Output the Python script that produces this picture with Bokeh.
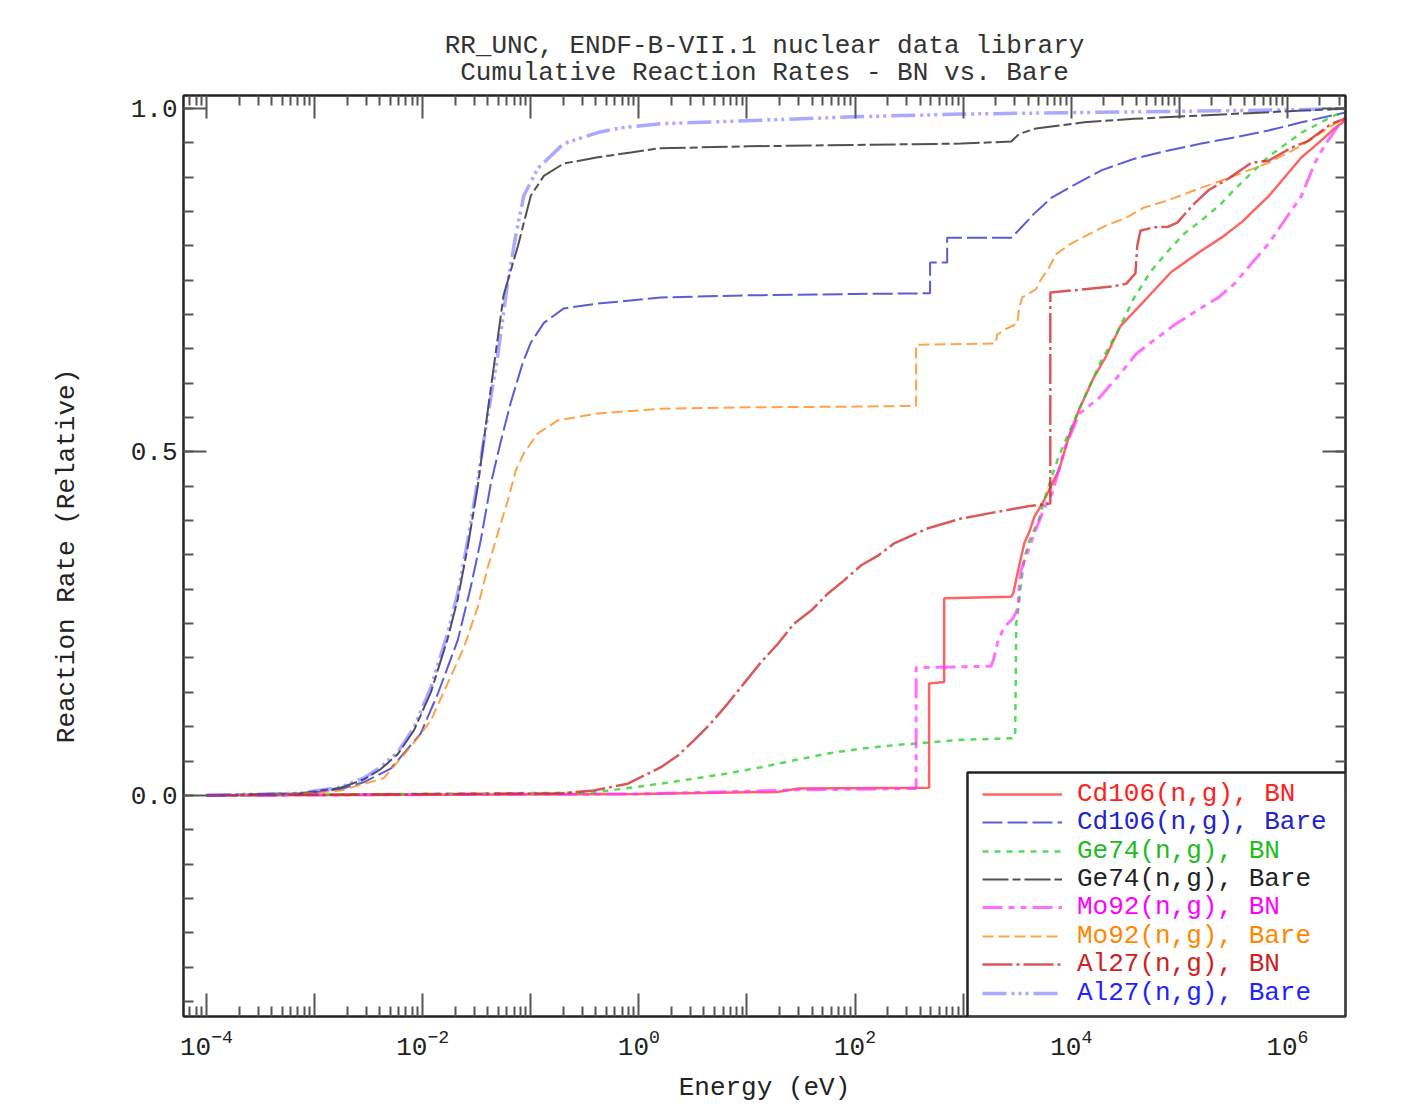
from bokeh.plotting import figure
from bokeh.models import (Range1d, LogAxis, LinearAxis, FixedTicker, LogTickFormatter,
                          PrintfTickFormatter, CustomJSTickFormatter, Legend, LegendItem,
                          BoxAnnotation)
from bokeh.embed import file_html
from bokeh.resources import INLINE

# ---------------- data (energy in eV, cumulative relative reaction rate) ----------------
e_cd106_bn = [1e-4, 1.0, 19, 30, 484, 484, 667, 667, 2780, 2904, 3228, 3443, 3673, 4083, 4539,
              4943, 5623, 7745, 9572, 1.19e4, 1.60e4, 2.11e4, 2.84e4, 4.08e4, 5.74e4, 8.4e4,
              1.5e5, 2.45e5, 3.8e5, 6.67e5, 1.35e6, 1.94e6, 2.72e6, 3.37e6, 3.5e6]
r_cd106_bn = [0.0, 0.002, 0.005, 0.010, 0.011, 0.163, 0.165, 0.287, 0.289, 0.294, 0.328, 0.347,
              0.367, 0.383, 0.405, 0.415, 0.430, 0.475, 0.524, 0.563, 0.607, 0.640, 0.683, 0.709,
              0.734, 0.762, 0.790, 0.812, 0.835, 0.872, 0.929, 0.950, 0.971, 0.982, 0.985]

e_cd106_bare = [1e-4, 7.4e-4, 1.74e-3, 2.84e-3, 5.06e-3, 9.57e-3, 1.38e-2, 2.11e-2, 2.78e-2,
                3.44e-2, 4.27e-2, 5.27e-2, 6.53e-2, 8.43e-2, 0.1, 0.132, 0.202, 0.417, 1.6, 10,
                100, 494, 494, 711, 711, 2780, 3228, 4539, 6530, 9400, 1.9e4, 3.83e4, 7.91e4,
                1.6e5, 3.23e5, 6.67e5, 1.35e6, 3.37e6, 3.5e6]
r_cd106_bare = [0.0, 0.002, 0.009, 0.019, 0.039, 0.090, 0.148, 0.226, 0.303, 0.371, 0.454, 0.515,
                0.572, 0.630, 0.659, 0.688, 0.709, 0.716, 0.725, 0.728, 0.730, 0.731, 0.776,
                0.776, 0.812, 0.812, 0.822, 0.847, 0.870, 0.884, 0.910, 0.927, 0.939, 0.949,
                0.958, 0.968, 0.980, 0.994, 0.996]

e_ge74_bn = [1e-4, 0.383, 1.6, 6.67, 13.5, 27.2, 56.2, 114, 230, 474, 957, 2780, 3027, 3097,
             3228, 3443, 3673, 4083, 5058, 5875, 7586, 1e4, 1.32e4, 1.9e4, 2.72e4, 3.83e4,
             5.51e4, 7.91e4, 1.11e5, 1.6e5, 2.45e5, 3.23e5, 6.67e5, 1.35e6, 2.72e6, 3.5e6]
r_ge74_bn = [0.0, 0.004, 0.017, 0.032, 0.041, 0.051, 0.061, 0.068, 0.073, 0.077, 0.081, 0.083,
             0.085, 0.250, 0.270, 0.310, 0.345, 0.370, 0.403, 0.440, 0.492, 0.536, 0.579, 0.633,
             0.677, 0.725, 0.764, 0.793, 0.818, 0.837, 0.862, 0.882, 0.930, 0.965, 0.990, 0.995]

e_ge74_bare = [1e-4, 7.4e-4, 1.74e-3, 2.84e-3, 4.08e-3, 5.87e-3, 8.26e-3, 1.19e-2, 1.70e-2,
               2.11e-2, 2.61e-2, 3.23e-2, 4.0e-2, 5.6e-2, 7.6e-2, 0.1, 0.132, 0.202, 0.417,
               0.843, 1.5, 10, 100, 957, 2780, 3300, 4700, 1.32e4, 3.83e4, 1.6e5, 1.35e6, 3.5e6]
r_ge74_bare = [0.0, 0.003, 0.011, 0.023, 0.038, 0.060, 0.094, 0.150, 0.228, 0.286, 0.362, 0.450,
               0.560, 0.728, 0.800, 0.873, 0.902, 0.920, 0.929, 0.936, 0.942, 0.945, 0.947,
               0.949, 0.952, 0.963, 0.971, 0.980, 0.985, 0.990, 0.997, 1.0]

e_mo92_bn = [1e-4, 1.0, 30, 367, 367, 1815, 1936, 2109, 2399, 2904, 3228, 3304, 3443, 4000,
             4539, 5875, 6668, 8790, 1.19e4, 1.82e4, 2.84e4, 4.0e4, 5.74e4, 9.38e4, 1.6e5,
             2.3e5, 3.23e5, 4.64e5, 6.67e5, 9.38e5, 1.35e6, 1.78e6, 2.2e6, 2.96e6, 3.5e6]
r_mo92_bn = [0.0, 0.002, 0.008, 0.010, 0.186, 0.188, 0.201, 0.226, 0.245, 0.258, 0.274, 0.309,
             0.328, 0.357, 0.381, 0.425, 0.440, 0.507, 0.556, 0.579, 0.614, 0.643, 0.662, 0.687,
             0.710, 0.725, 0.745, 0.774, 0.803, 0.837, 0.873, 0.920, 0.946, 0.975, 0.985]

e_mo92_bare = [1e-4, 7.4e-4, 1.74e-3, 4.36e-3, 8.26e-3, 1.19e-2, 1.70e-2, 2.40e-2, 3.23e-2,
               4.0e-2, 4.94e-2, 6.12e-2, 7.26e-2, 8.61e-2, 0.116, 0.178, 0.417, 1.6, 10, 100,
               367, 367, 2000, 2065, 2553, 3162, 3304, 3516, 4742, 5058, 6252, 7261, 9572,
               1.38e4, 2.11e4, 3.23e4, 4.74e4, 7.74e4, 1.38e5, 3.23e5, 6.67e5, 1.35e6, 2.4e6,
               3.37e6, 3.5e6]
r_mo92_bare = [0.0, 0.002, 0.007, 0.025, 0.076, 0.109, 0.163, 0.215, 0.274, 0.332, 0.381, 0.429,
               0.473, 0.498, 0.527, 0.546, 0.556, 0.563, 0.565, 0.566, 0.567, 0.656, 0.658,
               0.671, 0.680, 0.687, 0.710, 0.725, 0.737, 0.747, 0.769, 0.788, 0.802, 0.815,
               0.830, 0.841, 0.856, 0.866, 0.881, 0.902, 0.921, 0.946, 0.972, 0.987, 0.990]

e_al27_bn = [1e-4, 0.19, 0.383, 0.791, 1.6, 2.3, 3.23, 4.64, 6.67, 9.38, 13.5, 19.4, 27.2, 39.2,
             56.2, 79.1, 114, 163, 230, 474, 957, 1936, 4000, 6400, 6400, 2.45e4, 3.23e4,
             3.92e4, 4.08e4, 4.36e4, 5.74e4, 7.91e4, 9.57e4, 1.19e5, 1.38e5, 1.86e5, 2.84e5,
             4.64e5, 6.67e5, 1.09e6, 1.56e6, 2.55e6, 3.37e6, 3.5e6]
r_al27_bn = [0.0, 0.003, 0.007, 0.017, 0.041, 0.058, 0.080, 0.105, 0.134, 0.163, 0.194, 0.221,
             0.250, 0.269, 0.294, 0.313, 0.335, 0.349, 0.367, 0.389, 0.403, 0.412, 0.421, 0.425,
             0.732, 0.741, 0.745, 0.760, 0.800, 0.822, 0.827, 0.828, 0.834, 0.851, 0.862, 0.881,
             0.898, 0.921, 0.924, 0.943, 0.953, 0.978, 0.985, 0.990]

e_al27_bare = [1e-4, 7.4e-4, 1.74e-3, 2.84e-3, 4.08e-3, 5.87e-3, 8.26e-3, 1.19e-2, 1.70e-2,
               2.11e-2, 2.61e-2, 3.23e-2, 3.83e-2, 4.94e-2, 6.12e-2, 7.26e-2, 8.61e-2, 0.116,
               0.202, 0.417, 0.681, 1.6, 20, 100, 1e3, 1e4, 1e5, 1e6, 3.5e6]
r_al27_bare = [0.0, 0.003, 0.012, 0.025, 0.041, 0.063, 0.098, 0.157, 0.236, 0.294, 0.371, 0.459,
               0.535, 0.640, 0.747, 0.815, 0.873, 0.913, 0.949, 0.965, 0.972, 0.978, 0.984,
               0.988, 0.992, 0.994, 0.996, 0.998, 1.0]

labels = ["Cd106(n,g), BN", "Cd106(n,g), Bare", "Ge74(n,g), BN", "Ge74(n,g), Bare",
          "Mo92(n,g), BN", "Mo92(n,g), Bare", "Al27(n,g), BN", "Al27(n,g), Bare"]

title_lines = ["RR_UNC, ENDF-B-VII.1 nuclear data library",
               "Cumulative Reaction Rates - BN vs. Bare"]

x_major = [1e-5, 1e-4, 1e-3, 1e-2, 1e-1, 1.0, 10.0, 100.0, 1e3, 1e4, 1e5, 1e6, 1e7]
x_unlabeled = [1e-5, 1e-3, 1e-1, 10.0, 1e3, 1e5, 1e7]
y_major = [0.0, 0.5, 1.0]

# ---------------- styling ----------------
FONT = "Liberation Mono"
FS = "26px"
TXT = "#222222"

series = [
    (e_cd106_bn, r_cd106_bn, "#ff3030", 0.75, 2.5, "solid", "#ff2020"),
    (e_cd106_bare, r_cd106_bare, "#3333cc", 0.8, 2.0, "20 5", "#2222cc"),
    (e_ge74_bn, r_ge74_bn, "#22cc22", 0.75, 2.5, "6 6", "#22bb22"),
    (e_ge74_bare, r_ge74_bare, "#333333", 0.85, 2.0, "26 4 8 4", "#222222"),
    (e_mo92_bn, r_mo92_bn, "#ff33ff", 0.7, 3.0, "20 6 6 6 6 6", "#ff00ff"),
    (e_mo92_bare, r_mo92_bare, "#ff8c1a", 0.8, 2.0, "11 5", "#ff8800"),
    (e_al27_bn, r_al27_bn, "#cc2222", 0.75, 2.5, "30 4 3 4", "#cc2222"),
    (e_al27_bare, r_al27_bare, "#4040ff", 0.45, 3.5, "24 5 3 4 3 4 3 5", "#2222ff"),
]

p = figure(width=1412, height=1108, x_axis_type="log",
           x_range=Range1d(10 ** -4.213, 10 ** 6.537), y_range=Range1d(-0.322, 1.019),
           output_backend="svg", toolbar_location=None,
           min_border_left=183, min_border_right=67, min_border_top=95, min_border_bottom=92,
           background_fill_color="white", border_fill_color="white")
p.grid.visible = False
p.outline_line_color = "#222222"
p.outline_line_width = 2

# monospace block: pad the shorter line (non-breaking space) so both lines are centred
w = max(len(s) for s in title_lines)
p.title.text = "\n".join("\u00a0" * ((w - len(s)) // 2) + s for s in title_lines)
p.title.align = "center"
p.title.text_font = FONT
p.title.text_font_size = FS
p.title.text_font_style = "normal"
p.title.text_color = "#333333"
p.title.text_line_height = 0.92
p.title.standoff = 14

xticker = FixedTicker(ticks=x_major,
                      minor_ticks=[m * d for d in x_major[:-1] for m in range(2, 10)])
yticker = FixedTicker(ticks=y_major,
                      minor_ticks=[round(-0.3 + 0.05 * i, 2) for i in range(27)])


def style_axis(ax):
    ax.axis_line_color = "#222222"
    ax.axis_line_width = 2
    ax.major_tick_in = 23
    ax.major_tick_out = 0
    ax.minor_tick_in = 10
    ax.minor_tick_out = 0
    ax.major_tick_line_color = "#555555"
    ax.minor_tick_line_color = "#555555"
    ax.major_tick_line_width = 2
    ax.minor_tick_line_width = 2
    ax.major_label_text_font = FONT
    ax.major_label_text_font_size = FS
    ax.major_label_text_color = TXT
    ax.axis_label_text_font = FONT
    ax.axis_label_text_font_size = FS
    ax.axis_label_text_font_style = "normal"
    ax.axis_label_text_color = TXT


xa = p.xaxis[0]
xa.ticker = xticker
xa.formatter = LogTickFormatter()
xa.major_label_overrides = {v: "" for v in x_unlabeled}
xa.axis_label = "Energy (eV)"
style_axis(xa)
xa.major_label_standoff = 12
xa.axis_label_standoff = 15

ya = p.yaxis[0]
ya.ticker = yticker
ya.formatter = PrintfTickFormatter(format="%.1f")
ya.axis_label = "Reaction Rate (Relative)"
style_axis(ya)
ya.major_label_standoff = 6
ya.axis_label_standoff = 46

blank = CustomJSTickFormatter(code="return ''")
top = LogAxis(ticker=xticker, formatter=blank)
style_axis(top)
top.major_label_standoff = 0
top.major_label_text_font_size = "1px"
right = LinearAxis(ticker=yticker, formatter=blank)
style_axis(right)
right.major_label_standoff = 0
right.major_label_text_font_size = "1px"
p.add_layout(top, "above")
p.add_layout(right, "right")

renderers = []
for e, r, col, alpha, lw, dash, tcol in series:
    rr = p.line(e, r, line_color=col, line_alpha=alpha, line_width=lw, line_dash=dash)
    renderers.append(rr)

# legend box
box = BoxAnnotation(left=784, right=1162, bottom=0, top=244,
                    left_units="screen", right_units="screen",
                    bottom_units="screen", top_units="screen",
                    fill_color="white", fill_alpha=1.0,
                    line_color="#222222", line_width=2.5, line_alpha=1.0)
p.add_layout(box, "center")

row_centers = [793, 821, 850, 878, 906, 935, 963, 992]
for i, (rr, lab, s) in enumerate(zip(renderers, labels, series)):
    leg = Legend(items=[LegendItem(label=lab, renderers=[rr])],
                 location=(799, 1016 - row_centers[i] - 16),
                 glyph_width=80, glyph_height=28, label_height=28, label_standoff=15,
                 padding=0, margin=0, spacing=0,
                 border_line_color=None, background_fill_alpha=0,
                 label_text_font=FONT, label_text_font_size=FS, label_text_color=s[6])
    p.add_layout(leg, "center")

open("out.html", "w").write(file_html(p, INLINE))
